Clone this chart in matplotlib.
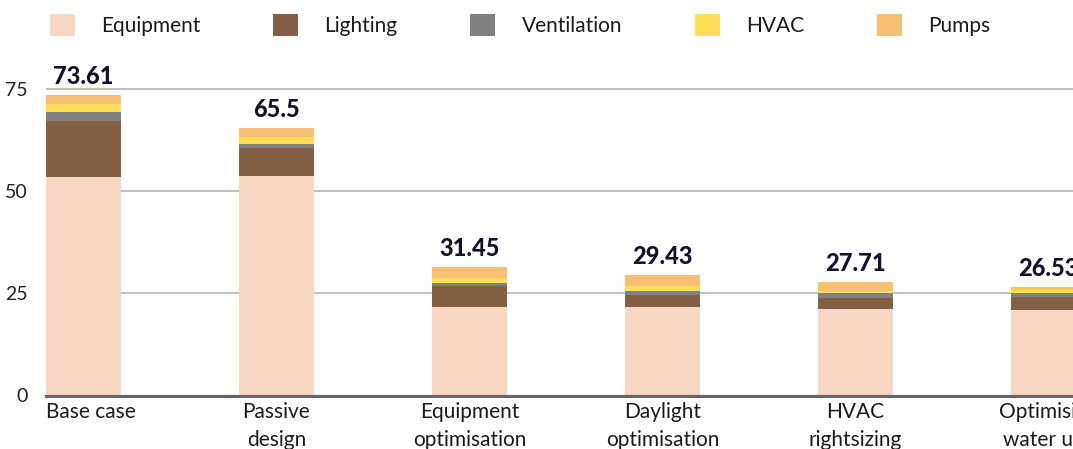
import matplotlib
matplotlib.use("Agg")
import matplotlib.pyplot as plt
import matplotlib.transforms as mtransforms
from matplotlib.patches import Patch
import numpy as np

plt.rcParams["font.family"] = ["Lato", "DejaVu Sans"]

# --- data -------------------------------------------------------------------
scenarios = ["Base case", "Passive\ndesign", "Equipment\noptimisation",
             "Daylight\noptimisation", "HVAC\nrightsizing", "Optimising\nwater use"]
totals = [73.61, 65.5, 31.45, 29.43, 27.71, 26.53]

end_uses = ["Equipment", "Lighting", "Ventilation", "HVAC", "Pumps"]
equipment = [53.6, 53.8, 21.6, 21.6, 21.1, 21.0]
lighting = [13.6, 6.8, 5.1, 2.9, 2.8, 3.1]
ventilation = [2.2, 0.9, 0.95, 1.2, 1.2, 0.95]
hvac = [2.0, 1.7, 1.2, 1.2, 0.4, 0.74]
pumps = [2.21, 2.3, 2.6, 2.53, 2.21, 0.74]

yticks = [0, 25, 50, 75]
title = "Design strategy"

colors = ["#F7D7C1", "#845F43", "#818181", "#FFDD57", "#F6BF72"]

# --- figure -----------------------------------------------------------------
W, H, DPI = 1073, 449, 100
fig = plt.figure(figsize=(W / DPI, H / DPI), dpi=DPI)
ax = fig.add_axes([46 / W, 53.5 / H, (W - 46) / W, 326.7 / H])

x = np.arange(len(scenarios))
bar_w = 0.389
series = [equipment, lighting, ventilation, hvac, pumps]
bottom = np.zeros(len(scenarios))
handles = []
for name, vals, col in zip(end_uses, series, colors):
    ax.bar(x, vals, bar_w, bottom=bottom, color=col, zorder=2, linewidth=0)
    bottom += np.array(vals)
    handles.append(Patch(facecolor=col, edgecolor="none", label=name))

for xi, t in zip(x, totals):
    ax.annotate(f"{t:g}", (xi, t), xytext=(0, 8), textcoords="offset points",
                ha="center", va="baseline", fontsize=17, fontweight="black",
                color="#16112B", clip_on=False, annotation_clip=False)

ax.set_xlim(-0.1943, 5.127)
ax.set_ylim(0, 80)
ax.set_yticks(yticks)
ax.set_yticklabels([str(v) for v in yticks], fontsize=14, color="#222222")
ax.set_xticks(x)
ax.set_xticklabels(scenarios, fontsize=15, color="#1a1a1a", linespacing=1.5,
                   va="top")
ax.tick_params(axis="both", length=0)
ax.tick_params(axis="y", pad=13)
ax.tick_params(axis="x", pad=4.5)

# first category label sits flush with its bar's left edge
first = ax.get_xticklabels()[0]
first.set_ha("left")
first.set_transform(first.get_transform() +
                    mtransforms.ScaledTranslation(-37.5 / DPI, 0, fig.dpi_scale_trans))

ax.grid(axis="y", color="#C0C0C0", linewidth=1.5, zorder=0)
ax.set_axisbelow(True)
for s in ["top", "right", "left"]:
    ax.spines[s].set_visible(False)
ax.spines["bottom"].set_color("#666666")
ax.spines["bottom"].set_linewidth(2.3)
ax.spines["bottom"].set_zorder(3)

fig.legend(handles=handles, loc="center left",
           bbox_to_anchor=(50 / W, 1 - 25 / H), ncol=5, frameon=False,
           fontsize=15, handlelength=1.2, handleheight=1.25,
           handletextpad=1.25, columnspacing=3.5, borderpad=0,
           borderaxespad=0, labelcolor="#1a1a1a")

fig.text(238 / W, 1 + 3.5 / H, title, ha="left", va="baseline",
         fontsize=18, fontweight="black", color="#16112B")

fig.savefig("out.png", dpi=DPI)
